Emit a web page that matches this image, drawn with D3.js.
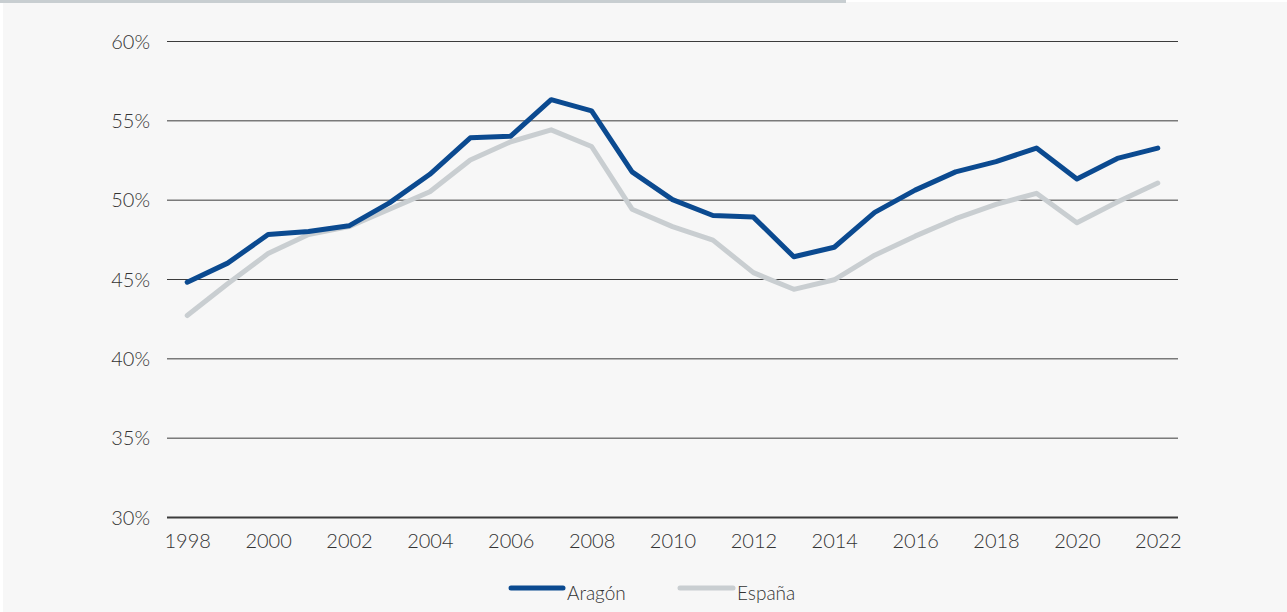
<!DOCTYPE html>
<html>
<head>
<meta charset="utf-8">
<script src="https://cdn.jsdelivr.net/npm/d3@7"></script>
<style>
  html, body { margin: 0; padding: 0; background: #ffffff; }
  svg { display: block; }
  text { font-family: Lato, "Open Sans", sans-serif; font-weight: 300; fill: #333333; }
</style>
</head>
<body>
<svg id="chart" width="1287" height="612"></svg>
<script>
// Years on the x axis
const years = [1998, 1999, 2000, 2001, 2002, 2003, 2004, 2005, 2006, 2007, 2008, 2009,
               2010, 2011, 2012, 2013, 2014, 2015, 2016, 2017, 2018, 2019, 2020, 2021, 2022];

// Series values (%)
const aragon = [44.8, 46.0, 47.8, 48.0, 48.35, 49.8, 51.6, 53.9, 54.0, 56.3, 55.6, 51.75,
                50.0, 49.0, 48.9, 46.4, 47.0, 49.2, 50.6, 51.75, 52.4, 53.25, 51.3, 52.6, 53.25];
const espana = [42.7, 44.7, 46.6, 47.8, 48.3, 49.4, 50.5, 52.5, 53.65, 54.4, 53.35, 49.4,
                48.3, 47.45, 45.4, 44.35, 44.95, 46.5, 47.7, 48.8, 49.7, 50.4, 48.55, 49.85, 51.05];

// Axis ticks and labels
const yTicks = [30, 35, 40, 45, 50, 55, 60];
const xTickYears = [1998, 2000, 2002, 2004, 2006, 2008, 2010, 2012, 2014, 2016, 2018, 2020, 2022];

const series = [
  { name: "Aragón", values: aragon, color: "#0b4a90" },
  { name: "España", values: espana, color: "#c9ced1" }
];

const svg = d3.select("#chart");

// Panel background and top accent bar
svg.append("rect").attr("x", 3).attr("y", 2).attr("width", 1284).attr("height", 610).attr("fill", "#f7f7f7");
svg.append("rect").attr("x", 0).attr("y", 0).attr("width", 846).attr("height", 3).attr("fill", "#c8ced1");

const plot = { left: 167, right: 1178, top: 41, bottom: 517 };

const x = d3.scalePoint().domain(years).range([plot.left, plot.right]).padding(0.5);
const y = d3.scaleLinear().domain([30, 60]).range([plot.bottom, plot.top]);

// Horizontal gridlines with percentage labels
const yAxis = d3.axisLeft(y)
  .tickValues(yTicks)
  .tickSize(-(plot.right - plot.left))
  .tickPadding(17)
  .tickFormat(d => d + "%");

const gy = svg.append("g").attr("transform", `translate(${plot.left},0)`).call(yAxis);
gy.select(".domain").remove();
gy.selectAll(".tick line")
  .attr("stroke", "#3c3c3c")
  .attr("stroke-width", d => d === 30 ? 2 : 1);
gy.selectAll(".tick text")
  .attr("font-size", 20)
  .attr("dy", "0.36em");

// Year labels
const xAxis = d3.axisBottom(x).tickValues(xTickYears).tickSize(0).tickPadding(17);
const gx = svg.append("g").attr("transform", `translate(0,${plot.bottom})`).call(xAxis);
gx.select(".domain").remove();
gx.selectAll(".tick text").attr("font-size", 20);

// Series lines
const line = d3.line()
  .x((d, i) => x(years[i]))
  .y(d => y(d));

svg.append("g").selectAll("path")
  .data(series.slice().reverse())
  .join("path")
  .attr("d", s => line(s.values))
  .attr("fill", "none")
  .attr("stroke", s => s.color)
  .attr("stroke-width", 5)
  .attr("stroke-linejoin", "round")
  .attr("stroke-linecap", "round");

// Legend
const legendPos = [{ x0: 511, x1: 563, tx: 567 }, { x0: 680, x1: 733, tx: 737 }];
const lg = svg.append("g");
series.forEach((s, i) => {
  const p = legendPos[i];
  lg.append("line")
    .attr("x1", p.x0).attr("x2", p.x1)
    .attr("y1", 588).attr("y2", 588)
    .attr("stroke", s.color).attr("stroke-width", 5).attr("stroke-linecap", "round");
  lg.append("text")
    .attr("x", p.tx).attr("y", 600)
    .attr("font-size", 19)
    .text(s.name);
});
</script>
</body>
</html>
